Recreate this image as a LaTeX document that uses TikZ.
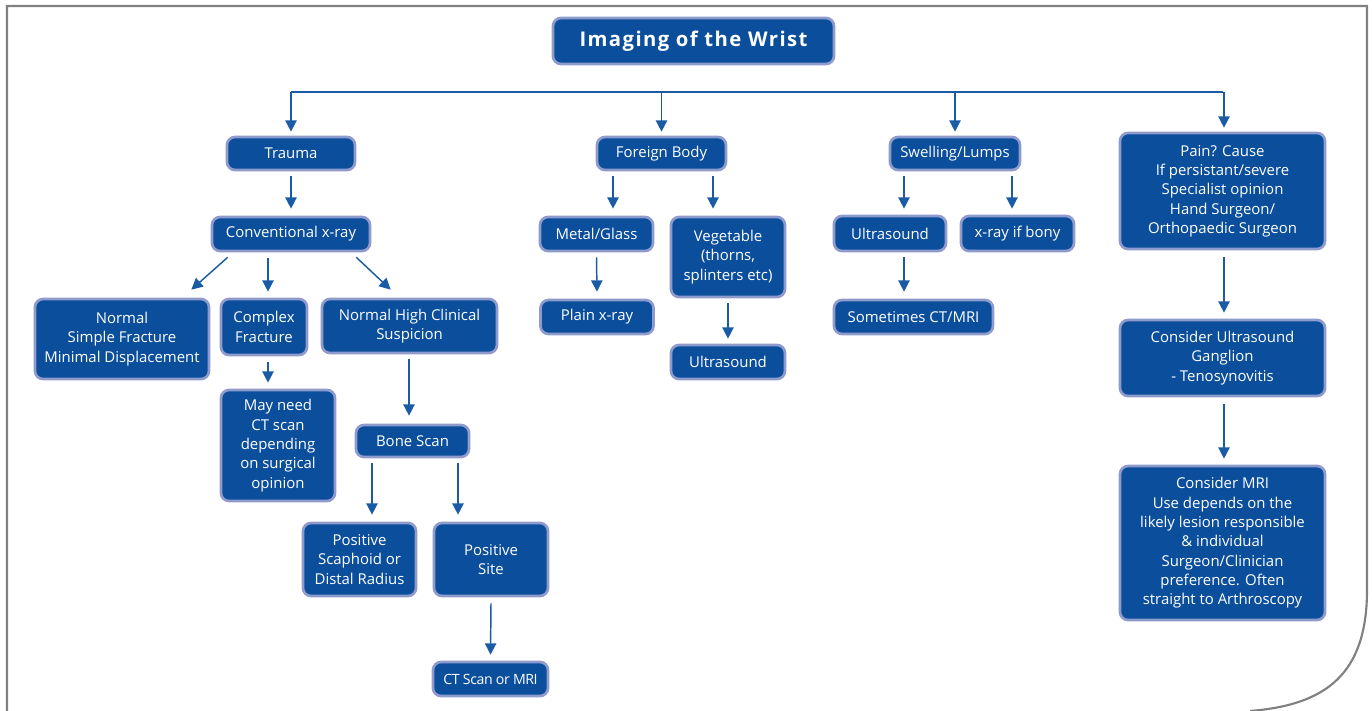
\documentclass[tikz,border=0pt]{standalone}
\usepackage{fontspec}
\setmainfont{Open Sans}
\usetikzlibrary{arrows.meta,calc}
\definecolor{boxfill}{RGB}{11,79,156}
\definecolor{boxedge}{RGB}{143,155,205}
\definecolor{arrcol}{RGB}{26,91,166}
\definecolor{framecol}{RGB}{128,128,128}
\tikzset{
  box/.style={draw=boxedge, line width=2pt, fill=boxfill, rounded corners=6pt,
    text=white, align=center, inner sep=0pt,
    font=\fontsize{11.2pt}{14.5pt}\selectfont},
  conn/.style={draw=arrcol, line width=1.1pt},
  arr/.style={conn, -{Triangle[width=8.5pt,length=8.5pt]}},
}
\newcommand{\bx}[5]{\node[box, minimum width=#3*0.75pt, minimum height=#4*0.75pt] (#1) at (#2) {#5};}
\begin{document}
\begin{tikzpicture}[x=0.75pt,y=-0.75pt]
\useasboundingbox (0,0) rectangle (1372,711);
% frame
\draw[framecol, line width=1.6pt] (7,711) -- (7,6) -- (1367,6) -- (1367,590)
  .. controls (1367,675) and (1325,705) .. (1250,711);
% title
\node[box, minimum width=281*0.75pt, minimum height=46*0.75pt,
  font=\fontsize{15.2pt}{18pt}\selectfont\bfseries\addfontfeatures{LetterSpace=7}] (title) at (693.5,41) {Imaging of the Wrist};
% first level
\bx{trauma}{291,153.5}{128}{33}{Trauma}
\bx{fb}{661.5,153.5}{129}{33}{Foreign Body}
\bx{swell}{955,153.5}{130}{33}{Swelling/Lumps}
\bx{pain}{1222.5,191}{205}{116}{Pain? Cause\\If persistant/severe\\Specialist opinion\\Hand Surgeon/\\Orthopaedic Surgeon}
% trauma branch
\bx{conv}{291,234}{158}{34}{Conventional x-ray}
\bx{normal}{122,339}{174}{80}{Normal\\Simple Fracture\\Minimal Displacement}
\bx{complex}{264,327}{86}{56}{Complex\\Fracture}
\bx{nhcs}{409.5,326}{175}{54}{Normal High Clinical\\Suspicion}
\bx{mayneed}{278,445.5}{114}{111}{May need\\CT scan\\depending\\on surgical\\opinion}
\bx{bone}{412.5,441}{113}{32}{Bone Scan}
\bx{scaph}{359.5,559.5}{113}{73}{Positive\\Scaphoid or\\Distal Radius}
\bx{site}{491,559.5}{114}{73}{Positive\\Site}
\node[box, minimum width=115*0.75pt, minimum height=34*0.75pt, font=\fontsize{10.6pt}{14pt}\selectfont\addfontfeatures{LetterSpace=-3}] (ctmri) at (490.5,679) {CT Scan or MRI};
% foreign body branch
\bx{metal}{596.5,234}{113}{34}{Metal/Glass}
\bx{veg}{728,257}{114}{80}{Vegetable\\(thorns,\\splinters etc)}
\bx{plain}{597,317}{113}{34}{Plain x-ray}
\bx{us1}{728,362}{114}{34}{Ultrasound}
% swelling branch
\bx{us2}{890,233.5}{112}{35}{Ultrasound}
\bx{xbony}{1017.5,233.5}{113}{35}{x-ray if bony}
\bx{sometimes}{913.5,317}{159}{34}{Sometimes CT/MRI}
% pain branch
\bx{cus}{1222.5,358}{205}{76}{Consider Ultrasound\\Ganglion\\- Tenosynovitis}
\bx{cmri}{1222.5,543}{205}{154}{Consider MRI\\Use depends on the\\likely lesion responsible\\\& individual\\Surgeon/Clinician\\preference. Often\\straight to Arthroscopy}
% hub
\coordinate (hub) at (693,92);
\draw[conn] (trauma.north |- hub) -- (pain.north |- hub);
\foreach \n in {trauma,fb,swell} {\draw[arr] (\n.north |- hub) -- ([yshift=3pt]\n.north);}
\coordinate (px) at (1224,0);
\draw[arr] (px |- hub) -- ([yshift=3pt]px |- pain.north);
% trauma arrows
\draw[arr] ($(trauma.south)+(0,5)$) -- ($(conv.north)+(0,-7)$);
\draw[arr] ($(conv.south west)+(17,5)$) -- ($(normal.north east)+(-19,-8)$);
\coordinate (c268) at (268,0);
\draw[arr] ($(conv.south -| c268)+(0,6)$) -- ($(complex.north -| c268)+(0,-6)$);
\draw[arr] ($(conv.south east)+(-15,5)$) -- ($(nhcs.north west)+(70,-8)$);
\draw[arr] ($(complex.south -| c268)+(0,6)$) -- ($(mayneed.north -| c268)+(0,-6)$);
\coordinate (c409) at (409,0);
\draw[arr] ($(nhcs.south -| c409)+(0,5)$) -- ($(bone.north -| c409)+(0,-8)$);
\coordinate (c372) at (372,0);
\coordinate (c458) at (458,0);
\draw[arr] ($(bone.south -| c372)+(0,5)$) -- ($(scaph.north -| c372)+(0,-7)$);
\draw[arr] ($(bone.south -| c458)+(0,5)$) -- ($(site.north -| c458)+(0,-7)$);
\draw[arr] ($(site.south)+(0,6)$) -- ($(ctmri.north)+(0,-6)$);
% foreign body arrows
\coordinate (c613) at (613,0);
\coordinate (c713) at (713,0);
\draw[arr] ($(fb.south -| c613)+(0,5)$) -- ($(metal.north -| c613)+(0,-7)$);
\draw[arr] ($(fb.south -| c713)+(0,5)$) -- ($(veg.north -| c713)+(0,-7)$);
\draw[arr] ($(metal.south)+(0,5)$) -- ($(plain.north)+(0,-7)$);
\draw[arr] ($(veg.south)+(0,5)$) -- ($(us1.north)+(0,-5)$);
% swelling arrows
\coordinate (c904) at (904,0);
\coordinate (c1012) at (1012,0);
\draw[arr] ($(swell.south -| c904)+(0,5)$) -- ($(us2.north -| c904)+(0,-6)$);
\draw[arr] ($(swell.south -| c1012)+(0,5)$) -- ($(xbony.north -| c1012)+(0,-6)$);
\draw[arr] ($(us2.south -| c904)+(0,5)$) -- ($(sometimes.north -| c904)+(0,-7)$);
% pain arrows
\draw[arr] ($(pain.south -| px)+(0,7)$) -- ($(cus.north -| px)+(0,-6)$);
\draw[arr] ($(cus.south -| px)+(0,7)$) -- ($(cmri.north -| px)+(0,-6)$);
\end{tikzpicture}
\end{document}
